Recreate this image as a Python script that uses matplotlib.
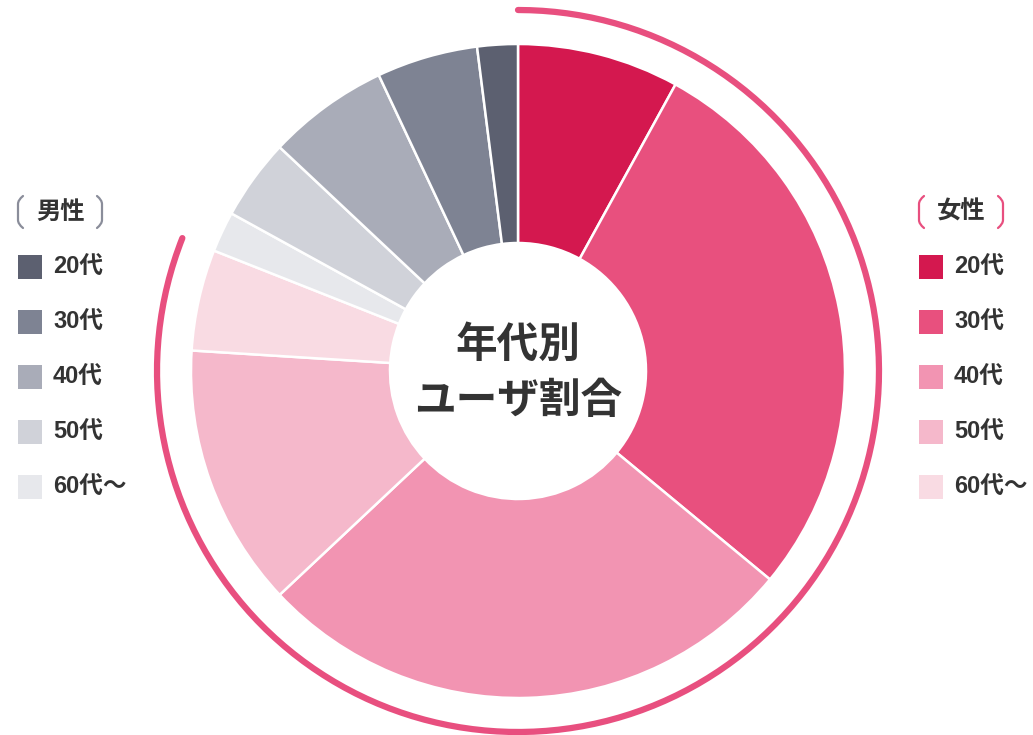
import numpy as np
import matplotlib
matplotlib.use("Agg")
import matplotlib.pyplot as plt
from matplotlib.path import Path
from matplotlib.patches import PathPatch

plt.rcParams['font.family'] = ['Noto Sans CJK JP', 'DejaVu Sans']

# data
labels = ["20代", "30代", "40代", "50代", "60代～"]
female = [8, 28, 27, 13, 5]
male = [2, 5, 6, 4, 2]
female_colors = ["#d4184f", "#e8507e", "#f294b2", "#f5b8cb", "#f9dbe3"]
male_colors = ["#5c6070", "#7e8393", "#a9acb8", "#d0d2d9", "#e7e8ec"]
center_title = "年代別\nユーザ割合"

W, H = 1033, 735
fig = plt.figure(figsize=(W / 100, H / 100), dpi=100)
ax = fig.add_axes([0, 0, 1, 1])

cx, cy = 518, H - 371
R, r_in = 327, 128

# female clockwise from top, then male 60 -> 20
values = female + male[::-1]
colors = female_colors + male_colors[::-1]
ax.pie(values, colors=colors, startangle=90, counterclock=False,
       center=(cx, cy), radius=R,
       wedgeprops=dict(width=R - r_in, edgecolor="white", linewidth=1.8))

# pie resets the limits, so set them afterwards
ax.set_xlim(0, W)
ax.set_ylim(0, H)
ax.set_aspect("equal")
ax.axis("off")

ax.text(cx, cy - 2, center_title, ha="center", va="center", fontsize=30,
        fontweight="bold", color="#333333", linespacing=1.42)

# outer arc showing female share
share = sum(female) / (sum(female) + sum(male))
theta = np.radians(np.linspace(90, 90 - 360 * share, 300))
ra = 361
ax.plot(cx + ra * np.cos(theta), cy + ra * np.sin(theta), color="#e84f7f",
        lw=4.5, solid_capstyle="round")


def bracket(x, ytop, ybot, side, color):
    # side = 1 opens right, -1 opens left
    h = 5 * side
    verts = [(x + h, ytop), (x, ytop - 4), (x, ytop - 8),
             (x, ybot + 8), (x, ybot + 4), (x + h, ybot)]
    codes = [Path.MOVETO, Path.CURVE3, Path.CURVE3,
             Path.LINETO, Path.CURVE3, Path.CURVE3]
    ax.add_patch(PathPatch(Path(verts, codes), fill=False, edgecolor=color,
                           lw=1.6, capstyle="round"))


def legend(x0, title, cols, bcolor, title_x, br_left, br_right):
    ty = H - 212
    ax.text(title_x, ty, title, ha="center", va="center", fontsize=17.5,
            fontweight="bold", color="#333333")
    bracket(br_left, ty + 16, ty - 16, 1, bcolor)
    bracket(br_right, ty + 16, ty - 16, -1, bcolor)
    for i, (lab, c) in enumerate(zip(labels, cols)):
        yy = H - (267 + 55 * i)
        ax.add_patch(plt.Rectangle((x0, yy - 12), 24, 24, color=c, lw=0))
        ax.text(x0 + 35, yy, lab, ha="left", va="center", fontsize=17,
                fontweight="bold", color="#333333",
                family=['Liberation Sans', 'Noto Sans CJK JP'])


legend(18, "男性", male_colors, "#8a8d9a", 61, 18, 102)
legend(919, "女性", female_colors, "#e84f7f", 961, 919, 1003)

fig.savefig("out.png", dpi=100)
